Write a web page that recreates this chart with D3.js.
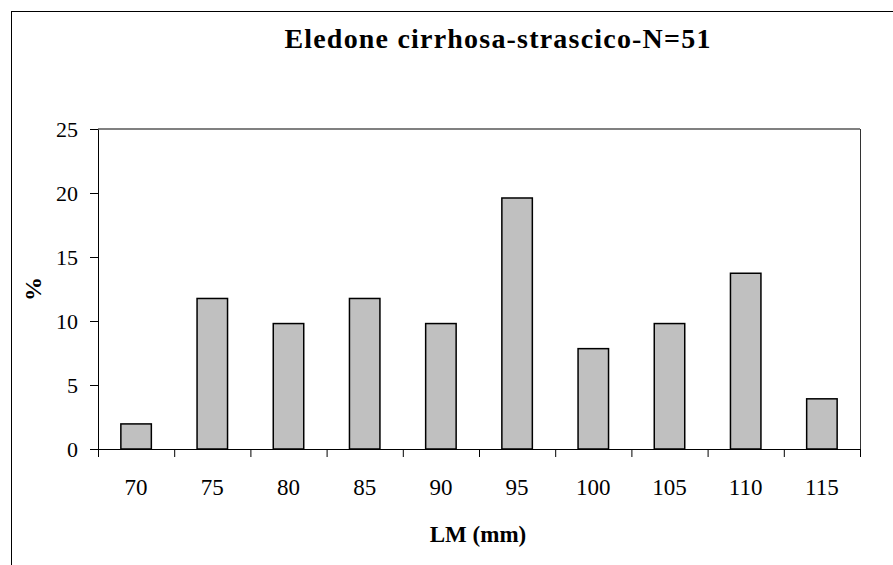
<!DOCTYPE html>
<html>
<head>
<meta charset="utf-8">
<script src="https://cdn.jsdelivr.net/npm/d3@7"></script>
<style>
  body { margin: 0; background: #fff; }
</style>
</head>
<body>
<div id="graph"></div>
<script>
const categories = ["70", "75", "80", "85", "90", "95", "100", "105", "110", "115"];
const values = [1.96, 11.76, 9.80, 11.76, 9.80, 19.61, 7.84, 9.80, 13.73, 3.92];
const yTicks = [0, 5, 10, 15, 20, 25];

const width = 893;
const height = 565;
const margin = {top: 129, right: 33, bottom: 116, left: 98};
const serifFont = "'Liberation Serif', 'Times New Roman', serif";

const svg = d3.select("#graph")
    .append("svg")
    .attr("width", width)
    .attr("height", height);

// outer chart frame
svg.append("rect")
    .attr("x", 11.5).attr("y", 11.5)
    .attr("width", 950).attr("height", 650)
    .attr("fill", "none").attr("stroke", "#000").attr("stroke-width", 1);

const x = d3.scaleBand()
    .domain(categories)
    .range([margin.left, width - margin.right])
    .paddingInner(0.6)
    .paddingOuter(0.3);

const y = d3.scaleLinear()
    .domain([0, 25])
    .range([height - margin.bottom, margin.top]);

// plot area border (top gray, right dark)
svg.append("line")
    .attr("x1", margin.left).attr("x2", width - margin.right)
    .attr("y1", y(25)).attr("y2", y(25))
    .attr("stroke", "#808080").attr("stroke-width", 2);
svg.append("line")
    .attr("x1", width - margin.right + 0.5).attr("x2", width - margin.right + 0.5)
    .attr("y1", y(25)).attr("y2", y(0))
    .attr("stroke", "#333").attr("stroke-width", 1);

svg.selectAll("rect.bar")
    .data(values)
    .join("rect")
    .attr("class", "bar")
    .attr("x", (d, i) => x(categories[i]))
    .attr("y", d => y(d))
    .attr("width", x.bandwidth())
    .attr("height", d => y(0) - y(d))
    .attr("fill", "#c0c0c0")
    .attr("stroke", "#000")
    .attr("stroke-width", 1.5);

// y axis
const yAxis = svg.append("g")
    .attr("transform", `translate(${margin.left},0)`)
    .call(d3.axisLeft(y).tickValues(yTicks).tickSize(8).tickSizeOuter(0).tickPadding(12));
yAxis.select(".domain").attr("stroke", "#000");
yAxis.selectAll("line").attr("stroke", "#000");
yAxis.selectAll("text")
    .style("font-family", serifFont).style("font-size", "22px").attr("fill", "#000");

// x axis with ticks at band boundaries
const step = x.step();
const x0 = margin.left;
const xAxis = svg.append("g")
    .attr("transform", `translate(0,${y(0)})`);
xAxis.append("line")
    .attr("x1", margin.left).attr("x2", width - margin.right)
    .attr("y1", 0.5).attr("y2", 0.5)
    .attr("stroke", "#000");
xAxis.selectAll("line.tk")
    .data(d3.range(categories.length + 1))
    .join("line")
    .attr("class", "tk")
    .attr("x1", i => x0 + i * step + 0.5).attr("x2", i => x0 + i * step + 0.5)
    .attr("y1", 0).attr("y2", 8)
    .attr("stroke", "#000");
xAxis.selectAll("text")
    .data(categories)
    .join("text")
    .attr("x", d => x(d) + x.bandwidth() / 2)
    .attr("y", 46)
    .attr("text-anchor", "middle")
    .style("font-family", serifFont).style("font-size", "23px")
    .text(d => d);

// title and axis labels
svg.append("text")
    .attr("x", 498).attr("y", 48)
    .attr("text-anchor", "middle")
    .style("font-family", serifFont).style("font-size", "28px").style("font-weight", "bold")
    .style("letter-spacing", "1.2px")
    .text("Eledone cirrhosa-strascico-N=51");

svg.append("text")
    .attr("x", 478).attr("y", 542)
    .attr("text-anchor", "middle")
    .style("font-family", serifFont).style("font-size", "23px").style("font-weight", "bold")
    .text("LM (mm)");

svg.append("text")
    .attr("transform", `translate(41,${(y(0) + y(25)) / 2}) rotate(-90)`)
    .attr("text-anchor", "middle")
    .style("font-family", serifFont).style("font-size", "24px").style("font-weight", "bold")
    .text("%");
</script>
</body>
</html>
